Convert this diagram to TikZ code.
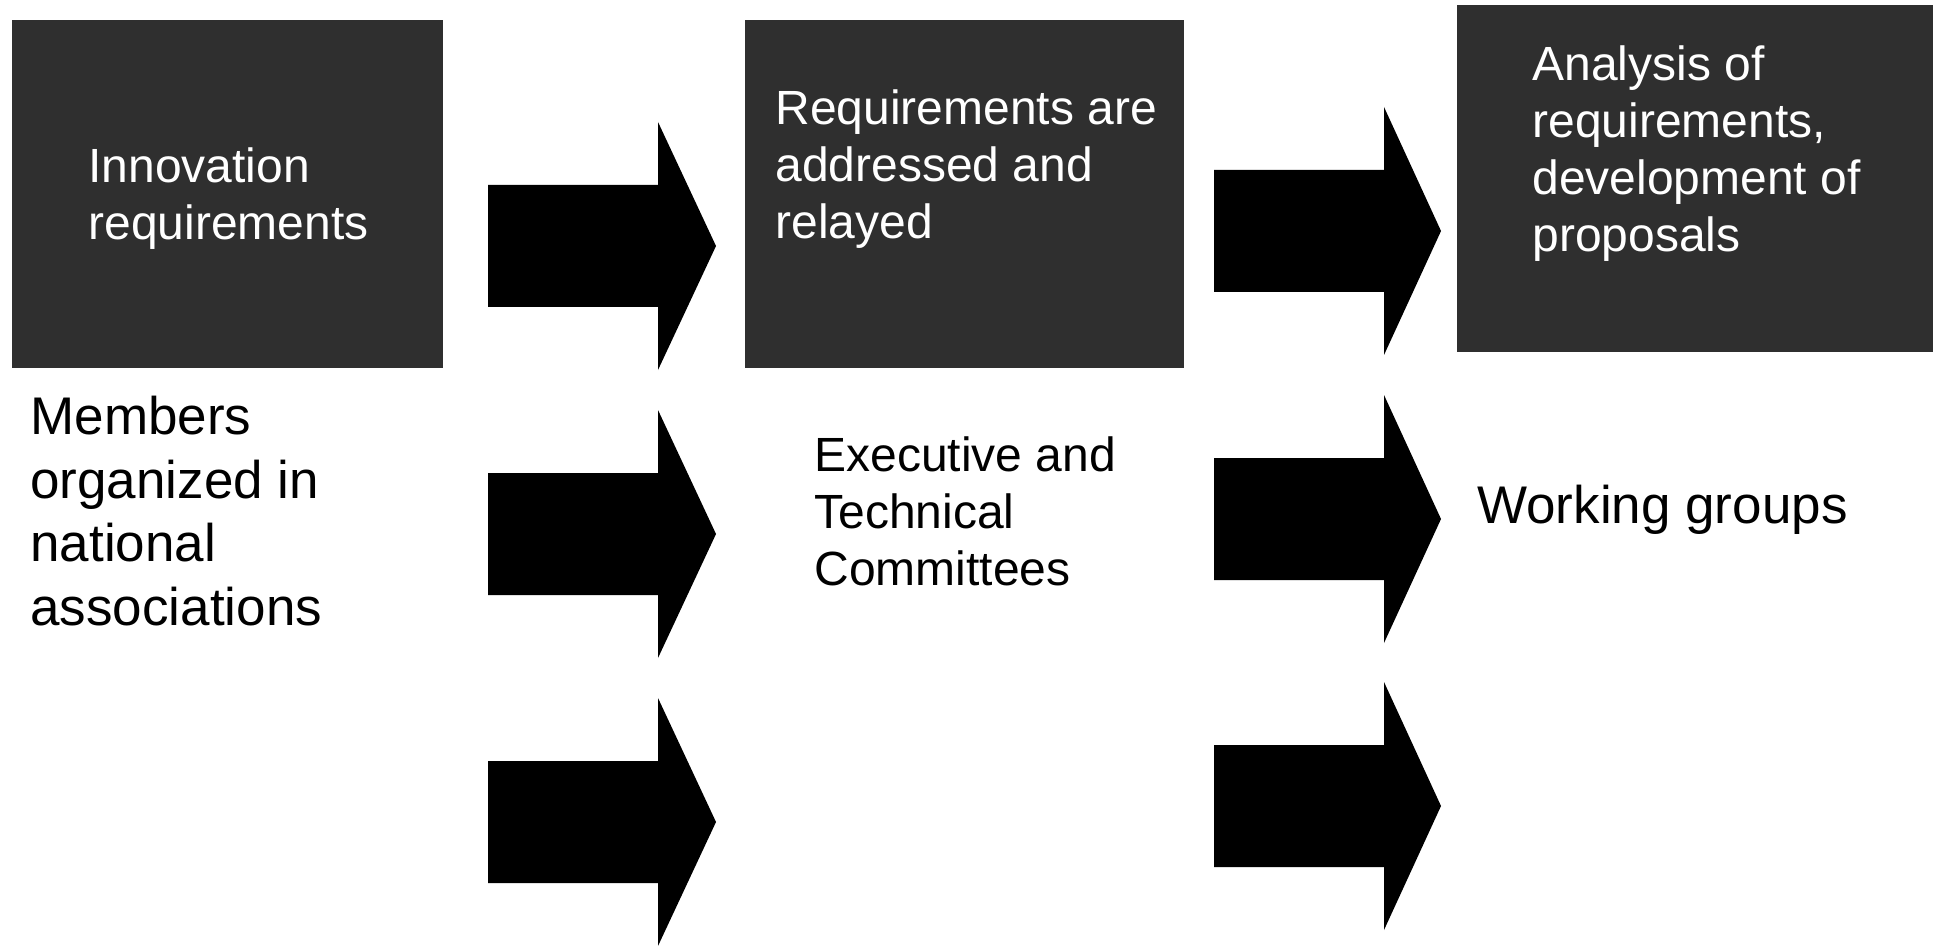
\documentclass[tikz,border=0pt]{standalone}
\usepackage{fontspec}
\setmainfont{Liberation Sans}
\usepackage{tikz}
\usetikzlibrary{positioning, calc}
\definecolor{boxgray}{RGB}{47,47,47}

\tikzset{
  darkbox/.style={fill=boxgray, draw=none, inner sep=0pt},
  boxtext/.style={text=white, align=left, anchor=base west, inner sep=0pt,
    font=\fontsize{24}{28.5}\selectfont},
  plaintext/.style={text=black, align=left, anchor=base west, inner sep=0pt,
    font=\fontsize{24}{28.5}\selectfont},
  bigtext/.style={text=black, align=left, anchor=base west, inner sep=0pt,
    font=\fontsize{26.5}{31.7}\selectfont},
  blockarrow/.style={fill=black, draw=none}
}

\begin{document}
\begin{tikzpicture}[x=0.5pt, y=-0.5pt]
    \useasboundingbox (0,0) rectangle (1936,946);

    % dark boxes along the top
    \node [darkbox, minimum width=215.5pt, minimum height=174pt] (innov) at (227,194) {};
    \node [darkbox, minimum width=219.5pt, minimum height=174pt] (relay) at (964.5,194) {};
    \node [darkbox, minimum width=238pt, minimum height=173.5pt] (analysis) at (1695,178.5) {};

    % base anchor sits on the last line
    \node [boxtext] (innovtxt) at (88,240) {Innovation\\requirements};
    \node [boxtext] (relaytxt) at (775,239) {Requirements are\\addressed and\\relayed};
    \node [boxtext] (analysistxt) at (1532,252) {Analysis of\\requirements,\\development of\\proposals};

    % plain labels
    \node [bigtext] (members) at (30,625) {Members\\organized in\\national\\associations};
    \node [plaintext] (committees) at (814,585) {Executive and\\Technical\\Committees};
    \node [bigtext] (groups) at (1477,523) {Working groups};

    % block arrows, first column
    \coordinate (a1) at (488,246);
    \coordinate (a2) at (488,534);
    \coordinate (a3) at (488,822);
    \fill [blockarrow] (a1) ++(0,-61) -- ++(170,0) -- ++(0,-63) -- ++(58,124) -- ++(-58,124) -- ++(0,-63) -- ++(-170,0) -- cycle;
    \fill [blockarrow] (a2) ++(0,-61) -- ++(170,0) -- ++(0,-63) -- ++(58,124) -- ++(-58,124) -- ++(0,-63) -- ++(-170,0) -- cycle;
    \fill [blockarrow] (a3) ++(0,-61) -- ++(170,0) -- ++(0,-63) -- ++(58,124) -- ++(-58,124) -- ++(0,-63) -- ++(-170,0) -- cycle;

    % block arrows, second column
    \coordinate (b1) at (1214,231);
    \coordinate (b2) at (1214,519);
    \coordinate (b3) at (1214,806);
    \fill [blockarrow] (b1) ++(0,-61) -- ++(170,0) -- ++(0,-63) -- ++(57,124) -- ++(-57,124) -- ++(0,-63) -- ++(-170,0) -- cycle;
    \fill [blockarrow] (b2) ++(0,-61) -- ++(170,0) -- ++(0,-63) -- ++(57,124) -- ++(-57,124) -- ++(0,-63) -- ++(-170,0) -- cycle;
    \fill [blockarrow] (b3) ++(0,-61) -- ++(170,0) -- ++(0,-63) -- ++(57,124) -- ++(-57,124) -- ++(0,-63) -- ++(-170,0) -- cycle;
\end{tikzpicture}
\end{document}
